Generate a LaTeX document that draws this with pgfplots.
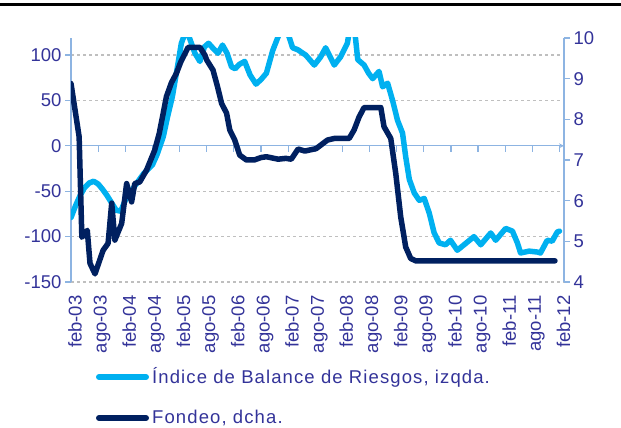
\documentclass[border=0pt]{standalone}
\usepackage{fontspec}
\setmainfont{Liberation Sans}
\usepackage{pgfplots}
\pgfplotsset{compat=1.18}

\definecolor{cLight}{RGB}{0,176,240}
\definecolor{cDark}{RGB}{0,32,96}
\definecolor{cText}{RGB}{51,51,153}
\definecolor{cAxis}{RGB}{141,180,226}
\definecolor{cGrid}{RGB}{191,191,191}

\newcommand{\chartfont}{\fontsize{18.5}{22}\selectfont}

\pgfplotsset{
  base/.style={
    at={(71pt,146pt)}, anchor=south west,
    scale only axis, width=493pt, height=244pt,
    xmin=0, xmax=109, enlargelimits=false,
    /pgf/number format/assume math mode=true,
    ticklabel style={font=\chartfont, text=cText},
    axis line style={cAxis, line width=1.2pt, -},
    tick style={cAxis, line width=1.2pt},
    major tick length=6pt,
  },
  dataline/.style={line width=5.5pt, line join=round, line cap=round},
}

\begin{document}
\begin{tikzpicture}
\useasboundingbox (0pt,0pt) rectangle (621pt,428pt);

% zero line with its month ticks
\begin{axis}[base,
    ymin=-150, ymax=118.8,
    axis x line=middle, axis y line=none,
    ytick=\empty, xtick=\empty,
    clip=false,
]
\pgfplotsinvokeforeach{6,12,...,108}{
  \draw[cAxis, line width=1.2pt] (axis cs:#1,0) -- ++(0pt,-6pt);
}
\end{axis}

% left axis: risk balance index
\begin{axis}[base,
    ymin=-150, ymax=118.8,
    axis y line*=left, axis x line*=bottom,
    x axis line style={draw=none},
    major x tick style={draw=none},
    tick align=outside,
    ytick={-150,-100,-50,50,100},
    extra y ticks={0}, extra y tick style={grid=none},
    ymajorgrids, grid style={cGrid, dashed, line width=1.2pt},
    xtick={0,6,...,108},
    xticklabels={feb-03,ago-03,feb-04,ago-04,feb-05,ago-05,feb-06,ago-06,feb-07,ago-07,feb-08,ago-08,feb-09,ago-09,feb-10,ago-10,feb-11,ago-11,feb-12},
    xticklabel style={xshift=4pt, yshift=-4pt, rotate=90, anchor=east},
]
\addplot[cLight, dataline] coordinates {
(0,-79) (1,-66) (2,-55) (3,-46) (4,-41) (5,-39) (6,-42) (7,-48) (8,-55)
(9,-63) (10,-71) (11,-72) (12,-60) (13,-52) (14,-45) (15,-38) (16,-31)
(17,-26) (18,-21) (19,-10) (20.4,10) (21.3,31) (22.4,54) (23.4,83)
(24.4,113) (25.5,128) (26.4,116) (27.4,102) (28.5,93) (29.5,109)
(30.4,113) (31.5,107) (32.5,102) (33.5,111) (34.5,102) (35.5,87)
(36.3,85) (37.3,90) (38.4,93) (39.6,78) (40.9,68) (42,73) (43.2,80)
(44.6,105) (46.4,128) (47.7,128) (49,108) (50.1,106) (51.9,100)
(53.8,89) (55.2,98) (56.3,108) (58.2,89) (59.6,98) (61.1,113)
(61.6,128) (62.7,128) (63.4,95) (64.8,89) (65.8,80) (66.7,74)
(68.1,82) (68.9,65) (70,69) (71.1,50) (72.2,28) (73.3,14) (74,-12)
(74.8,-37) (75.9,-52) (77,-60) (78.1,-58) (79.2,-74) (80.3,-96)
(81.4,-107) (82.8,-109) (83.9,-104) (85.4,-115) (86.9,-109) (89.1,-100)
(90.6,-109) (92.8,-96) (93.9,-104) (96.1,-91) (97.6,-94) (98.7,-107)
(99.4,-118) (101.3,-116) (103.1,-117) (103.8,-118) (105.3,-104)
(106.4,-105) (107.5,-95) (108,-94)
};
\end{axis}

% right axis: funding rate
\begin{axis}[base,
    ymin=4, ymax=10,
    axis y line*=right, axis x line=none,
    xtick=\empty,
    tick align=outside,
    ytick={4,5,...,10},
    yticklabel style={anchor=west},
]
\addplot[cDark, dataline] coordinates {
(0,8.88) (1.8,7.57) (2.4,5.1) (3.6,5.27) (4.2,4.46) (5.3,4.2) (7.1,4.78)
(8.2,4.95) (9.0,5.94) (9.7,5.03) (11.2,5.44) (12.3,6.42) (13.4,5.97)
(14.1,6.42) (15.2,6.46) (16.7,6.75) (18.5,7.24) (19.5,7.65) (20.3,8.1)
(21.1,8.56) (22.2,8.9) (23.3,9.13) (24.3,9.42) (25.2,9.62) (25.9,9.77)
(28.5,9.77) (29.6,9.58) (30,9.46) (31.4,9.21) (32.4,8.8) (33.3,8.39)
(34.4,8.15) (35.1,7.74) (36.2,7.49) (37.3,7.12) (38.8,7.0) (40.5,7.0)
(42,7.06) (43.2,7.08) (45.8,7.02) (47.5,7.04) (48.7,7.02) (50.2,7.27)
(51.7,7.22) (54.2,7.28) (56.7,7.49) (58.2,7.53) (61.5,7.53) (62.6,7.74)
(63.7,8.06) (64.8,8.29) (68.5,8.29) (69.2,7.82) (70.7,7.53) (71.8,6.67)
(72.9,5.6) (74.0,4.86) (75.1,4.58) (76.2,4.52) (107,4.52)
};
\end{axis}

% legend
\draw[cLight, line width=6pt, line cap=round] (99pt,51pt) -- (146pt,51pt);
\node[anchor=west, inner sep=0pt, text=cText, font=\chartfont\addfontfeature{LetterSpace=6}]
  at (152pt,51pt) {Índice de Balance de Riesgos, izqda.};
\draw[cDark, line width=6pt, line cap=round] (99pt,10pt) -- (146pt,10pt);
\node[anchor=west, inner sep=0pt, text=cText, font=\chartfont\addfontfeature{LetterSpace=6}]
  at (152pt,10pt) {Fondeo, dcha.};

% rule under the cut-off title
\fill[black] (0pt,422pt) rectangle (621pt,425pt);
\end{tikzpicture}
\end{document}
